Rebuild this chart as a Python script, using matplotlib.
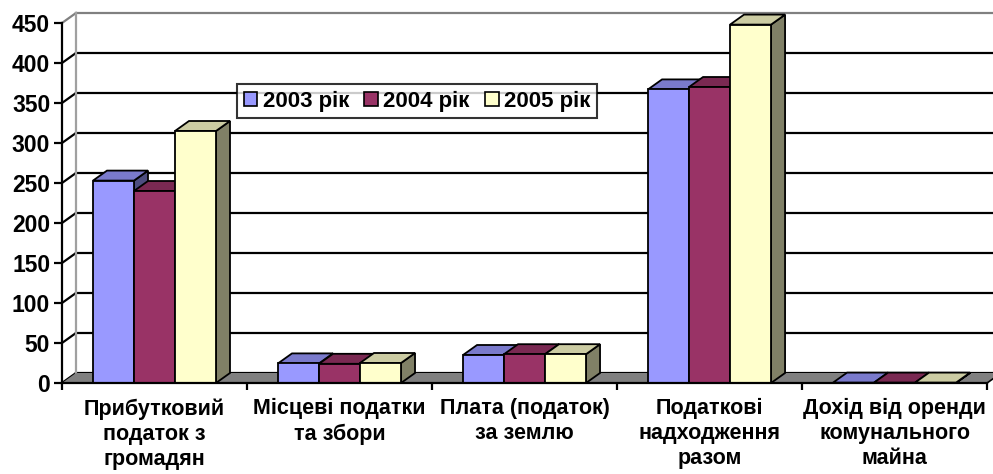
import matplotlib
matplotlib.use('Agg')
import matplotlib.pyplot as plt
from matplotlib.patches import Polygon, Rectangle
import numpy as np

plt.rcParams['font.family'] = ['Liberation Sans', 'DejaVu Sans']
plt.rcParams['font.weight'] = 'bold'

categories = ['Прибутковий\nподаток з\nгромадян',
              'Місцеві податки\nта збори',
              'Плата (податок)\nза землю',
              'Податкові\nнадходження\nразом',
              'Дохід від оренди\nкомунального\nмайна']
series_names = ['2003 рік', '2004 рік', '2005 рік']
v2003 = [253, 24.5, 35, 367, 0.5]
v2004 = [240, 24, 36, 370, 0.5]
v2005 = [315, 25, 36, 448, 0.5]
series_values = [v2003, v2004, v2005]
colors = ['#9999FF', '#993366', '#FFFFCC']
yticks = list(range(0, 451, 50))

# 3d look: depth offset in data units
DX = 0.0757
DY = 12.5
W = 0.2216

def shade(c, f):
    r, g, b = matplotlib.colors.to_rgb(c)
    return (r * f, g * f, b * f)

fig = plt.figure(figsize=(9.93, 4.74), dpi=100)
ax = fig.add_axes([0, 0, 1, 1])
n = len(categories)
ax.set_xlim(-0.335, 5.032)
ax.set_ylim(-113.75, 478.75)

# back wall + side wall grid
for v in yticks:
    col = '#808080' if v == yticks[-1] else 'black'
    ax.plot([DX, n + DX + 1], [v + DY, v + DY], color=col, lw=1.6, zorder=1)
    ax.plot([0, DX], [v, v + DY], color=col, lw=1.6, zorder=1)
ax.plot([DX, DX], [DY, yticks[-1] + DY], color='#A0A0A0', lw=1.6, zorder=1)

# floor
floor = Polygon([(0, 0), (n, 0), (n + DX, DY), (DX, DY)], closed=True,
                facecolor='#808080', edgecolor='none', zorder=2)
ax.add_patch(floor)
ax.plot([n, n + DX], [0, DY], color='black', lw=1.2, zorder=2)

# bars
start = (1 - 3 * W) / 2
for i in range(n):
    for j, vals in enumerate(series_values):
        x0 = i + start + j * W
        v = vals[i]
        c = colors[j]
        z = 3 + i * 3 + j
        front = Rectangle((x0, 0), W, v, facecolor=c, edgecolor='black', lw=1.3, zorder=z)
        top = Polygon([(x0, v), (x0 + W, v), (x0 + W + DX, v + DY), (x0 + DX, v + DY)],
                      closed=True, facecolor=shade(c, 0.8), edgecolor='black', lw=1.3, zorder=z)
        side = Polygon([(x0 + W, 0), (x0 + W + DX, DY), (x0 + W + DX, v + DY), (x0 + W, v)],
                       closed=True, facecolor=shade(c, 0.5), edgecolor='black', lw=1.3, zorder=z)
        ax.add_patch(side)
        ax.add_patch(top)
        ax.add_patch(front)

# axes
for s in ['top', 'right']:
    ax.spines[s].set_visible(False)
ax.spines['left'].set_position(('data', 0))
ax.spines['bottom'].set_position(('data', 0))
ax.spines['left'].set_bounds(0, 450)
ax.spines['bottom'].set_bounds(0, n)
ax.spines['left'].set_linewidth(1.6)
ax.spines['bottom'].set_linewidth(1.6)
ax.spines['left'].set_zorder(50)
ax.spines['bottom'].set_zorder(50)

ax.set_yticks(yticks)
ax.set_yticklabels([str(t) for t in yticks], fontsize=16.5, fontweight='bold')
ax.tick_params(axis='y', direction='out', length=5.5, width=1.6, pad=3)

ax.set_xticks(np.arange(0, n + 1))
ax.set_xticklabels([])
ax.set_xticks(np.arange(n) + 0.5, minor=True)
ax.set_xticklabels(categories, minor=True, fontsize=15.5, linespacing=1.25)
for lbl in ax.get_xticklabels(minor=True):
    lbl.set_fontweight('bold')
ax.tick_params(axis='x', which='major', direction='out', length=5, width=1.6)
ax.tick_params(axis='x', which='minor', length=0, pad=11)

handles = [Rectangle((0, 0), 1, 1, facecolor=c, edgecolor='black', lw=1.2) for c in colors]
leg = ax.legend(handles, series_names, loc='upper left', ncol=3,
                bbox_to_anchor=(237 / 993, 1 - 84 / 474), bbox_transform=fig.transFigure,
                prop={'weight': 'bold', 'size': 16}, frameon=True, fancybox=False,
                handlelength=0.6, handleheight=0.6, handletextpad=0.25, columnspacing=0.7,
                borderpad=0.3, borderaxespad=0)
leg.get_frame().set_edgecolor('black')
leg.get_frame().set_linewidth(1.5)
leg.set_zorder(100)

fig.savefig('out.png', dpi=100)
